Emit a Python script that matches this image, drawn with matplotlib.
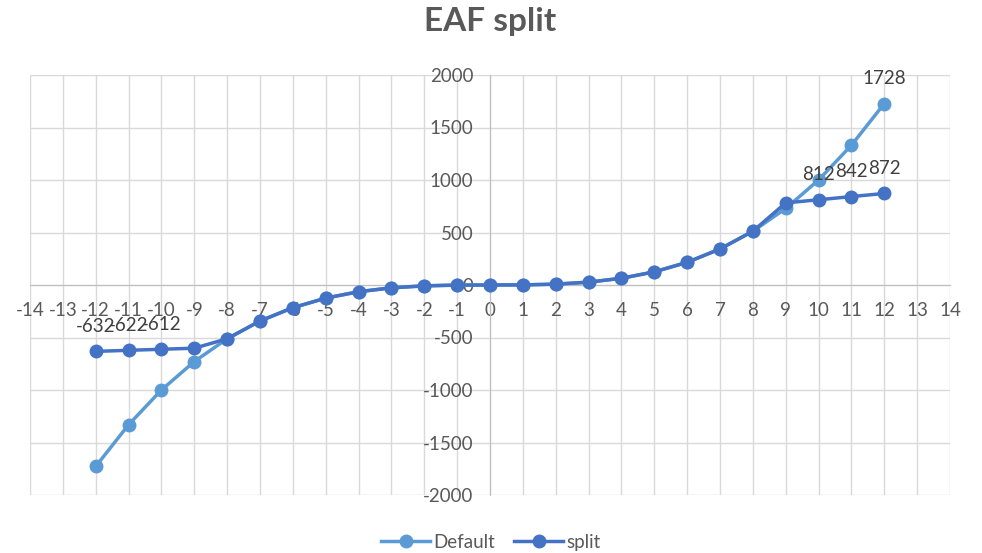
import numpy as np
import matplotlib.pyplot as plt

plt.rcParams['font.family'] = ['Lato', 'DejaVu Sans']
plt.rcParams['axes.unicode_minus'] = False

x = list(range(-12, 13))
default = [-1728, -1331, -1000, -729, -512, -343, -216, -125, -64, -27, -8, -1, 0,
           1, 8, 27, 64, 125, 216, 343, 512, 729, 1000, 1331, 1728]
split = [-632, -622, -612, -602, -512, -343, -216, -125, -64, -27, -8, -1, 0,
         1, 8, 27, 64, 125, 216, 343, 512, 782, 812, 842, 872]

# which points carry data labels
default_labels = [12]
split_labels = [-12, -11, -10, 10, 11, 12]

c_default = '#5B9BD5'
c_split = '#4472C4'
txt = '#595959'

fig = plt.figure(figsize=(9.82, 5.53), dpi=100)
ax = fig.add_axes([30 / 982, 58 / 553, 920 / 982, 420 / 553])

ax.plot(x, default, color=c_default, lw=2.5, marker='o', ms=9, label='Default', zorder=3)
ax.plot(x, split, color=c_split, lw=2.5, marker='o', ms=9, label='split', zorder=4)

# data labels overlap in the original too (Excel default placement)
for xi in default_labels:
    v = default[x.index(xi)]
    ax.annotate(str(v), (xi, v), xytext=(0, 12), textcoords='offset points',
                ha='center', va='bottom', fontsize=13.5, color='#404040')
for xi in split_labels:
    v = split[x.index(xi)]
    ax.annotate(str(v), (xi, v), xytext=(0, 12), textcoords='offset points',
                ha='center', va='bottom', fontsize=13.5, color='#404040')

ax.set_xlim(-14, 14)
ax.set_ylim(-2000, 2000)
ax.set_xticks(range(-14, 15))
ax.set_yticks(range(-2000, 2001, 500))
ax.grid(True, color='#d9d9d9', lw=1)
ax.set_axisbelow(True)

ax.spines['left'].set_position('zero')
ax.spines['bottom'].set_position('zero')
ax.spines['left'].set_color('#bfbfbf')
ax.spines['bottom'].set_color('#bfbfbf')
ax.spines['right'].set_visible(False)
ax.spines['top'].set_visible(False)
ax.tick_params(length=0, labelsize=13.5, labelcolor=txt, pad=12)

ax.set_title('EAF split', fontsize=24, fontweight='bold', color=txt, pad=32)

fig.legend(loc='lower center', ncol=2, frameon=False, fontsize=13.5,
           bbox_to_anchor=(0.5, -0.026), handlelength=2.6, labelcolor=txt,
           columnspacing=1.0, handletextpad=0.2)

fig.savefig('out.png', dpi=100)
